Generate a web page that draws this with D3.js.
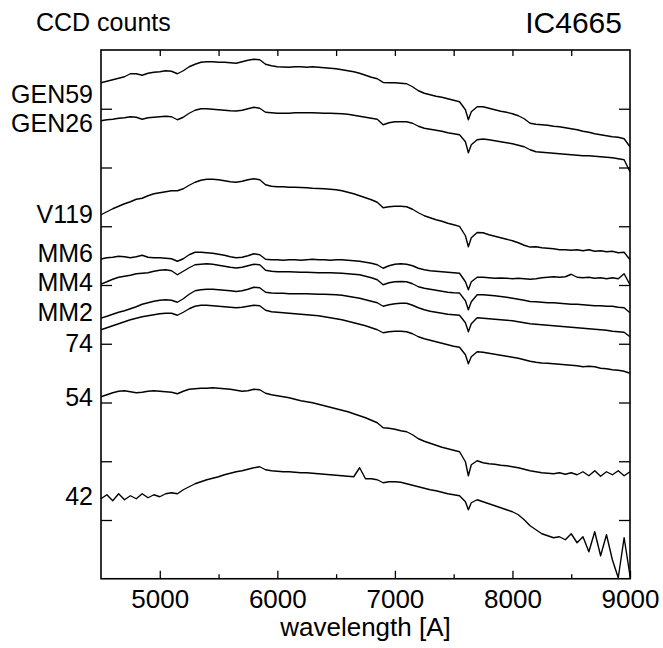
<!DOCTYPE html>
<html>
<head>
<meta charset="utf-8">
<script src="https://cdn.jsdelivr.net/npm/d3@7"></script>
<style>
  html, body { margin: 0; padding: 0; background: #fff; }
  #chart { width: 663px; height: 648px; }
  text { font-family: "Liberation Sans", Arial, Helvetica, sans-serif; fill: #000; }
</style>
</head>
<body>
<div id="chart"></div>
<script>
// wavelength grid [A], 10 values per row
const wavelength = [
  4500, 4550, 4600, 4650, 4700, 4750, 4800, 4850, 4900, 4950,
  5000, 5050, 5100, 5150, 5200, 5250, 5300, 5350, 5400, 5450,
  5500, 5550, 5600, 5650, 5700, 5750, 5800, 5850, 5900, 5950,
  6000, 6050, 6100, 6150, 6200, 6250, 6300, 6350, 6400, 6450,
  6500, 6550, 6600, 6650, 6700, 6750, 6800, 6850, 6900, 6950,
  7000, 7050, 7100, 7150, 7200, 7250, 7300, 7350, 7400, 7450,
  7500, 7550, 7600, 7625, 7650, 7700, 7750, 7800, 7850, 7900,
  7950, 8000, 8050, 8100, 8150, 8200, 8250, 8300, 8350, 8400,
  8450, 8500, 8550, 8600, 8650, 8700, 8750, 8800, 8850, 8900,
  8950, 9000
];

// CCD counts (arbitrary units, spectra offset vertically)
const gen59 = [
  496, 497.5, 499, 500.5, 502, 505, 505, 503.5, 505.5, 506.5,
  507, 508, 507.5, 505, 508, 512, 514.5, 516.5, 517, 517,
  516.5, 516.5, 516, 515.5, 517, 518.5, 519.5, 519, 514.5, 513,
  512, 511.7, 511.5, 512, 512, 511.5, 512, 511.5, 511, 510.5,
  510, 509, 508, 507, 505.5, 503.5, 501.5, 500, 496.3, 496,
  496, 495.5, 495, 492, 488, 485.5, 484, 482.5, 481.5, 480,
  478.5, 477, 469, 459, 467, 472, 472, 470.5, 469, 467.5,
  466.5, 465, 463, 460, 455.5, 454.5, 454, 453.5, 452.5, 452,
  451, 450, 449, 447.5, 446.5, 445, 444, 443, 442, 441.5,
  440, 432
];
const gen26 = [
  458, 459, 459.5, 460.5, 461, 462, 461.5, 459.5, 461, 461.5,
  462, 462.5, 462, 459, 461.5, 465.5, 468.5, 470, 470, 469.5,
  469, 468.5, 468, 467.7, 468.5, 470, 471.5, 470.5, 466.5, 466,
  465.5, 465.5, 465.5, 466, 466, 466, 466, 465.8, 465.5, 465.5,
  465.2, 465, 464.5, 463.5, 462.5, 461.5, 460.5, 459.5, 454, 456,
  457, 457, 457, 455.5, 452.5, 450.5, 449.5, 448.5, 447.5, 446,
  445, 444, 437, 426, 434, 439, 439.7, 439, 438, 437,
  436, 435, 433.5, 432, 429, 427, 426.5, 426, 425.5, 425,
  424.5, 424, 423.5, 423, 423, 422.5, 422, 421.5, 421, 420,
  419, 407
];
const v119 = [
  364, 367, 370, 372.5, 375, 377, 379.5, 380.5, 383, 385,
  386, 387, 388, 388, 390, 393.5, 396.5, 398.5, 399.5, 399.5,
  399, 398, 397, 396.5, 397.5, 399, 400, 399, 394, 392.5,
  392, 392, 391.5, 391.5, 391.3, 391, 390.5, 390.2, 390, 389.5,
  389, 388, 386.5, 385, 383, 381, 379, 376.5, 371, 372,
  372.5, 372.5, 372, 369.5, 366, 363, 361, 359, 357.5, 355.5,
  354, 352.3, 343, 332, 341, 346.3, 346, 344, 342.5, 341,
  339.5, 338, 336, 333.5, 331.7, 332, 331, 330.5, 330, 329,
  329, 328.5, 329, 328, 329, 327.5, 328, 327, 327.5, 326,
  326.5, 319
];
const mm6 = [
  319.7, 321, 321.5, 322.5, 322, 321, 322, 323.5, 321.5, 321,
  321, 320.5, 320, 317.5, 320, 324, 326.5, 326.5, 326, 325.5,
  324.5, 323.5, 322, 321, 321.5, 323, 325, 324, 319.5, 319,
  319, 318.5, 319, 319, 318.5, 319, 319.5, 319, 319, 318.5,
  319, 319, 318.5, 318, 317.5, 316.5, 315.5, 314, 310.5, 313,
  314.5, 315, 314.5, 313, 310.5, 309, 308, 307.5, 307, 306.5,
  306, 305.5, 297, 289, 297, 301.5, 301.5, 301, 300.5, 300.7,
  300.5, 300, 300.5, 300, 299.5, 300, 301, 301.5, 302, 301.5,
  302, 304.5, 301.5, 301, 301.5, 300.5, 301, 300, 301, 300,
  305, 294
];
const mm4 = [
  294.7, 297, 299.5, 301.5, 302.5, 303.5, 305, 305.5, 306, 307.5,
  308.5, 309, 308, 304, 307.5, 311, 314, 314.5, 315, 314.5,
  313.5, 312.5, 311.5, 310.7, 311.5, 313, 314.5, 314, 308.5, 307.5,
  307, 307, 307, 306.7, 306.5, 306.5, 306.2, 306, 306, 306,
  305.7, 305.5, 305, 304.5, 304, 302.5, 301, 299, 294, 296,
  297, 297.3, 297, 295, 292, 290.5, 289.5, 288.5, 287.5, 286.5,
  286, 285.7, 278, 269, 277, 284, 284, 283.5, 283, 282.3,
  281.5, 280.5, 279.5, 278.5, 277.3, 277, 276.5, 276, 276, 275.5,
  275, 274.5, 274.5, 274, 273.5, 273, 273, 272.5, 272.5, 271.5,
  271, 266
];
const mm2 = [
  260.7, 262.5, 264.5, 266.5, 268, 270, 272, 274.5, 276, 277.5,
  278.5, 279, 278.5, 276.5, 280, 284.5, 288, 289, 289.5, 289.5,
  289, 288.5, 288, 287.3, 288, 289.5, 291.5, 291, 286.5, 285.7,
  285.5, 285.5, 285, 285, 285, 285, 284.7, 284.5, 284.5, 284.3,
  284, 283.5, 282.5, 281.5, 280.5, 279, 277.5, 276, 272.5, 274,
  275, 275.5, 275.5, 273.5, 271, 269, 267.5, 266.5, 265.5, 264.5,
  264, 263.5, 256, 247, 255, 261, 260.5, 260, 259.5, 259,
  258.5, 258, 257, 256, 255, 254.5, 254, 253.5, 253, 252.5,
  252, 251.5, 251, 250.5, 250, 249.5, 249, 248.5, 247.5, 247,
  246.5, 242
];
const s74 = [
  249, 251, 253, 255, 257, 259, 260.5, 262, 263, 264,
  265, 265.5, 265.5, 263.5, 266.5, 270, 272.5, 273.5, 273.5, 273,
  272.5, 272, 271.5, 271, 271.5, 272.5, 273.5, 273, 268.5, 267,
  266.5, 266, 265.5, 265, 264.5, 264, 263.5, 263, 262, 261,
  260, 259, 257.5, 256, 254.5, 253, 251, 249, 246, 247,
  247.5, 247.5, 247, 245, 242, 240, 238.5, 237, 235.5, 234,
  232.5, 231.5, 224, 215, 222, 227, 226.5, 225.5, 224.5, 223.5,
  222.5, 221.5, 220.5, 219, 217.5, 216.5, 215.7, 215.5, 215, 214.5,
  214, 213.5, 213, 212, 212.5, 212, 210.5, 210, 209, 208.5,
  207.5, 205.5
];
const s54 = [
  182, 184, 186, 187.5, 188, 187, 186, 186.5, 187.5, 188,
  187.5, 187, 186.5, 185, 187.5, 189.5, 190, 190.5, 190.5, 191,
  190.5, 190, 189.5, 188.5, 187.5, 188, 189.5, 189, 185.5, 184,
  183, 182, 181, 179.5, 178, 177, 176, 174.5, 173, 171.5,
  170, 168.5, 167, 165, 163, 161, 158.5, 156, 151, 150.5,
  149.5, 148, 147, 144, 140, 137.5, 135.5, 133.5, 131.5, 130,
  128.5, 127, 117, 103, 114, 118, 116, 115, 114.5, 113.5,
  113, 112, 111, 109.5, 108, 107, 106, 105.5, 105, 106,
  104.5, 106, 104, 107, 103, 108, 102.5, 107, 104, 108,
  103, 107
];
const s42 = [
  80, 84, 78, 85, 79, 83, 80, 85, 81, 84,
  82, 85, 86, 85, 89, 92, 95, 97, 99, 100.5,
  102, 104, 105.5, 107, 108, 109.5, 111, 112, 109, 108,
  107.5, 107, 107, 106.5, 106, 106, 105.5, 105, 104.5, 104,
  103.5, 103, 102.5, 102, 111, 100, 100, 99, 96, 97,
  97, 96.5, 95, 93.5, 92, 90.5, 89, 88, 86.5, 85,
  84, 83, 77, 69, 76, 79, 77, 75, 73, 71,
  69, 67, 64, 59, 53, 49, 45, 43, 41, 42,
  39, 45, 36, 42, 27, 47, 23, 44, 19, 1,
  41, 3
];

// star names and the level where each name sits on the left
const starNames = ["GEN59", "GEN26", "V119", "MM6", "MM4", "MM2", "74", "54", "42"];
const nameLevels = [485, 456, 365, 326, 297, 267, 236, 182, 83];

const xTicksMajor = [5000, 6000, 7000, 8000, 9000];
const xTicksMinor = [5500, 6500, 7500, 8500];
const xTicksTop = [5000, 5500, 6000, 6500, 7000, 7500, 8000, 8500];

const spectra = [gen59, gen26, v119, mm6, mm4, mm2, s74, s54, s42];

const width = 663, height = 648;
const margin = { top: 50, right: 33, bottom: 69.25, left: 101 };

const svg = d3.select("#chart")
    .append("svg")
    .attr("width", width)
    .attr("height", height);

const x = d3.scaleLinear()
    .domain([4500, 9000])
    .range([margin.left, width - margin.right]);

const y = d3.scaleLinear()
    .domain([0, 528.75])
    .range([height - margin.bottom, margin.top]);

const yTicks = d3.range(1, 9).map(i => i * 58.75);

// spectra
const line = d3.line()
    .x((d, i) => x(wavelength[i]))
    .y(d => y(d));

svg.append("g")
    .selectAll("path")
    .data(spectra)
    .enter().append("path")
    .attr("d", d => line(d.slice(0, wavelength.length)))
    .attr("fill", "none")
    .attr("stroke", "#000")
    .attr("stroke-width", 1.4)
    .attr("stroke-linejoin", "round");

// axes (ticks pointing inward)
svg.append("g")
    .attr("transform", `translate(0,${y(0)})`)
    .call(d3.axisBottom(x).tickValues(xTicksMajor).tickSize(-8).tickPadding(11).tickFormat(d3.format("d")))
    .call(g => g.select(".domain").remove())
    .call(g => g.selectAll("text").style("font-size", "26px").attr("font-family", null));

svg.append("g")
    .attr("transform", `translate(0,${y(0)})`)
    .call(d3.axisBottom(x).tickValues(xTicksMinor).tickSize(-4.5).tickFormat(""))
    .call(g => g.select(".domain").remove());

svg.append("g")
    .attr("transform", `translate(0,${margin.top})`)
    .call(d3.axisTop(x).tickValues(xTicksTop).tickSize(-6).tickFormat(""))
    .call(g => g.select(".domain").remove());

svg.append("g")
    .attr("transform", `translate(${margin.left},0)`)
    .call(d3.axisLeft(y).tickValues(yTicks).tickSize(-11).tickFormat(""))
    .call(g => g.select(".domain").remove());

svg.append("g")
    .attr("transform", `translate(${width - margin.right},0)`)
    .call(d3.axisRight(y).tickValues(yTicks).tickSize(-11).tickFormat(""))
    .call(g => g.select(".domain").remove());

svg.selectAll(".tick line").attr("stroke", "#000").attr("stroke-width", 1.3);

// frame
svg.append("rect")
    .attr("x", margin.left)
    .attr("y", margin.top)
    .attr("width", width - margin.left - margin.right)
    .attr("height", height - margin.top - margin.bottom)
    .attr("fill", "none")
    .attr("stroke", "#000")
    .attr("stroke-width", 1.6);

// star names
svg.append("g")
    .selectAll("text")
    .data(starNames)
    .enter().append("text")
    .attr("x", 93)
    .attr("y", (d, i) => y(nameLevels[i]))
    .attr("dy", "0.36em")
    .attr("text-anchor", "end")
    .style("font-size", "25px")
    .text(d => d);

// titles
svg.append("text")
    .attr("x", (margin.left + width - margin.right) / 2)
    .attr("y", 636)
    .attr("text-anchor", "middle")
    .style("font-size", "26px")
    .text("wavelength [A]");

svg.append("text")
    .attr("x", 36)
    .attr("y", 31)
    .style("font-size", "25px")
    .text("CCD counts");

svg.append("text")
    .attr("x", 622)
    .attr("y", 33)
    .attr("text-anchor", "end")
    .style("font-size", "30px")
    .text("IC4665");
</script>
</body>
</html>
